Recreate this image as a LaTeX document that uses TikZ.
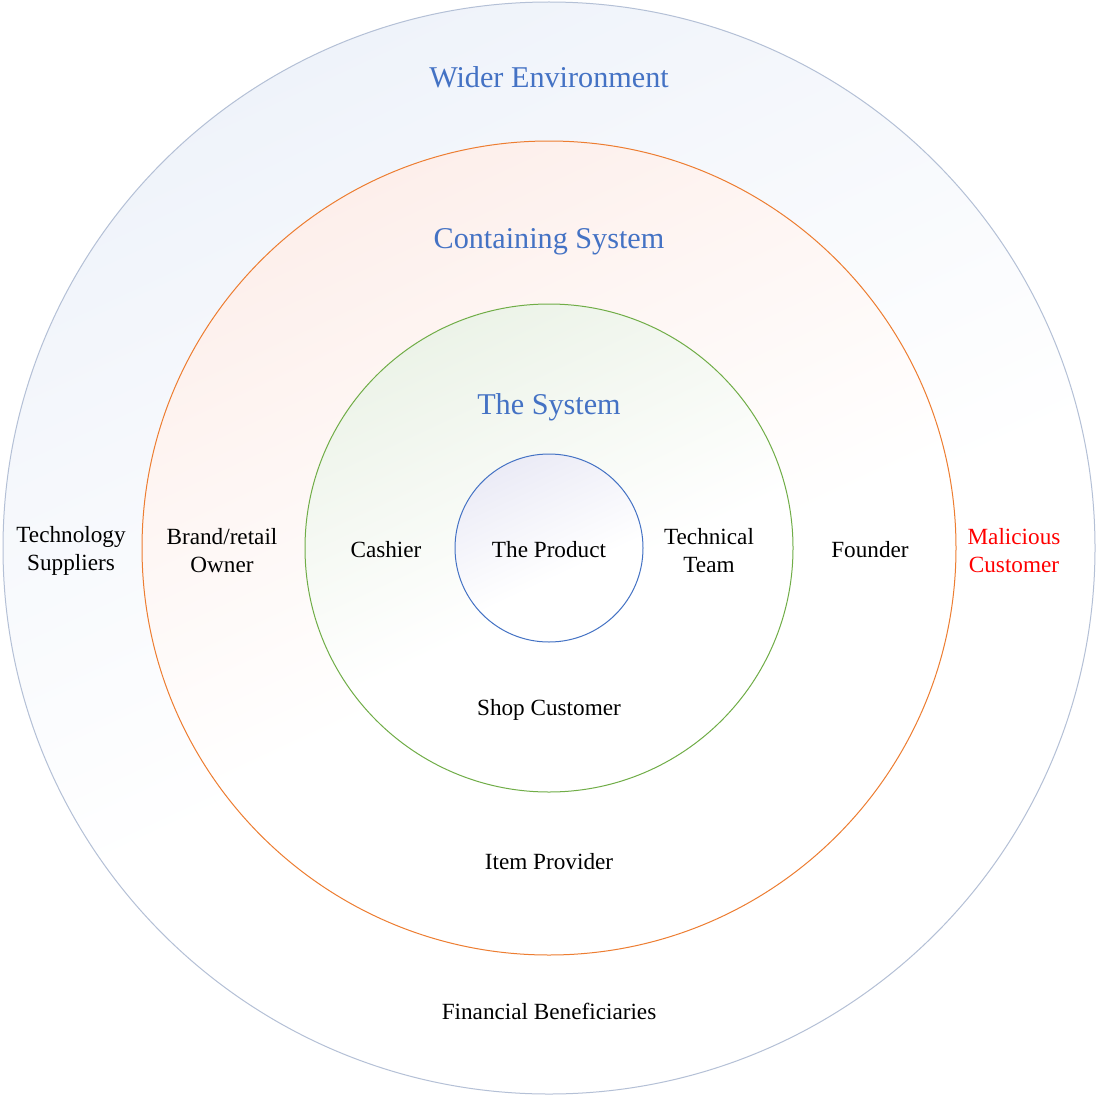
\documentclass[tikz,border=0pt]{standalone}
\usepackage{fontspec}
\setmainfont{Liberation Serif}
\definecolor{outerline}{HTML}{B4C0D6}
\definecolor{outertint}{HTML}{EFF3FA}
\definecolor{contline}{HTML}{ED7D31}
\definecolor{conttint}{HTML}{FDEFEB}
\definecolor{sysline}{HTML}{70AD47}
\definecolor{systint}{HTML}{ECF3E8}
\definecolor{prodline}{HTML}{4472C4}
\definecolor{prodtint}{HTML}{EBEBF6}
\definecolor{headblue}{HTML}{4472C4}
\pgfdeclareverticalshading{outershade}{100bp}{color(0bp)=(white); color(45bp)=(white); color(75bp)=(outertint); color(100bp)=(outertint)}
\pgfdeclareverticalshading{contshade}{100bp}{color(0bp)=(white); color(45bp)=(white); color(75bp)=(conttint); color(100bp)=(conttint)}
\pgfdeclareverticalshading{sysshade}{100bp}{color(0bp)=(white); color(45bp)=(white); color(75bp)=(systint); color(100bp)=(systint)}
\pgfdeclareverticalshading{prodshade}{100bp}{color(0bp)=(white); color(42bp)=(white); color(75bp)=(prodtint); color(100bp)=(prodtint)}
\begin{document}
\begin{tikzpicture}[x=1pt,y=-1pt,
  ring/.style={line width=1pt, shade, shading angle=25},
  lbl/.style={font=\fontsize{23.2}{28}\selectfont, align=center, inner sep=0pt},
  head/.style={font=\fontsize{30.2}{34}\selectfont, text=headblue, inner sep=0pt}]
\useasboundingbox (0,0) rectangle (1097,1097);
\fill[white] (0,0) rectangle (1097,1097);
\path[ring, shading=outershade, draw=outerline] (549,548) circle[radius=546];
\path[ring, shading=contshade, draw=contline] (549,548) circle[radius=407];
\path[ring, shading=sysshade, draw=sysline] (549,548) circle[radius=244];
\path[ring, shading=prodshade, draw=prodline] (549,548) circle[radius=94];
\node[head] (wider) at (549,77) {Wider Environment};
\node[head] (cont) at (549,242) {Containing System};
\node[head] (sys) at (549,407) {The System};
\node[lbl] (tech) at (71,551) {Technology\\Suppliers};
\node[lbl] (brand) at (222,551) {Brand/retail\\Owner};
\node[lbl] (cashier) at (386,550) {Cashier};
\node[lbl] (product) at (549,550) {The Product};
\node[lbl] (team) at (709,551) {Technical\\Team};
\node[lbl] (founder) at (870,550) {Founder};
\node[lbl, text=red] (malicious) at (1014,551) {Malicious\\Customer};
\node[lbl] (shop) at (549,710) {Shop Customer};
\node[lbl] (item) at (549,862) {Item Provider};
\node[lbl] (fin) at (549,1011) {Financial Beneficiaries};
\end{tikzpicture}
\end{document}
